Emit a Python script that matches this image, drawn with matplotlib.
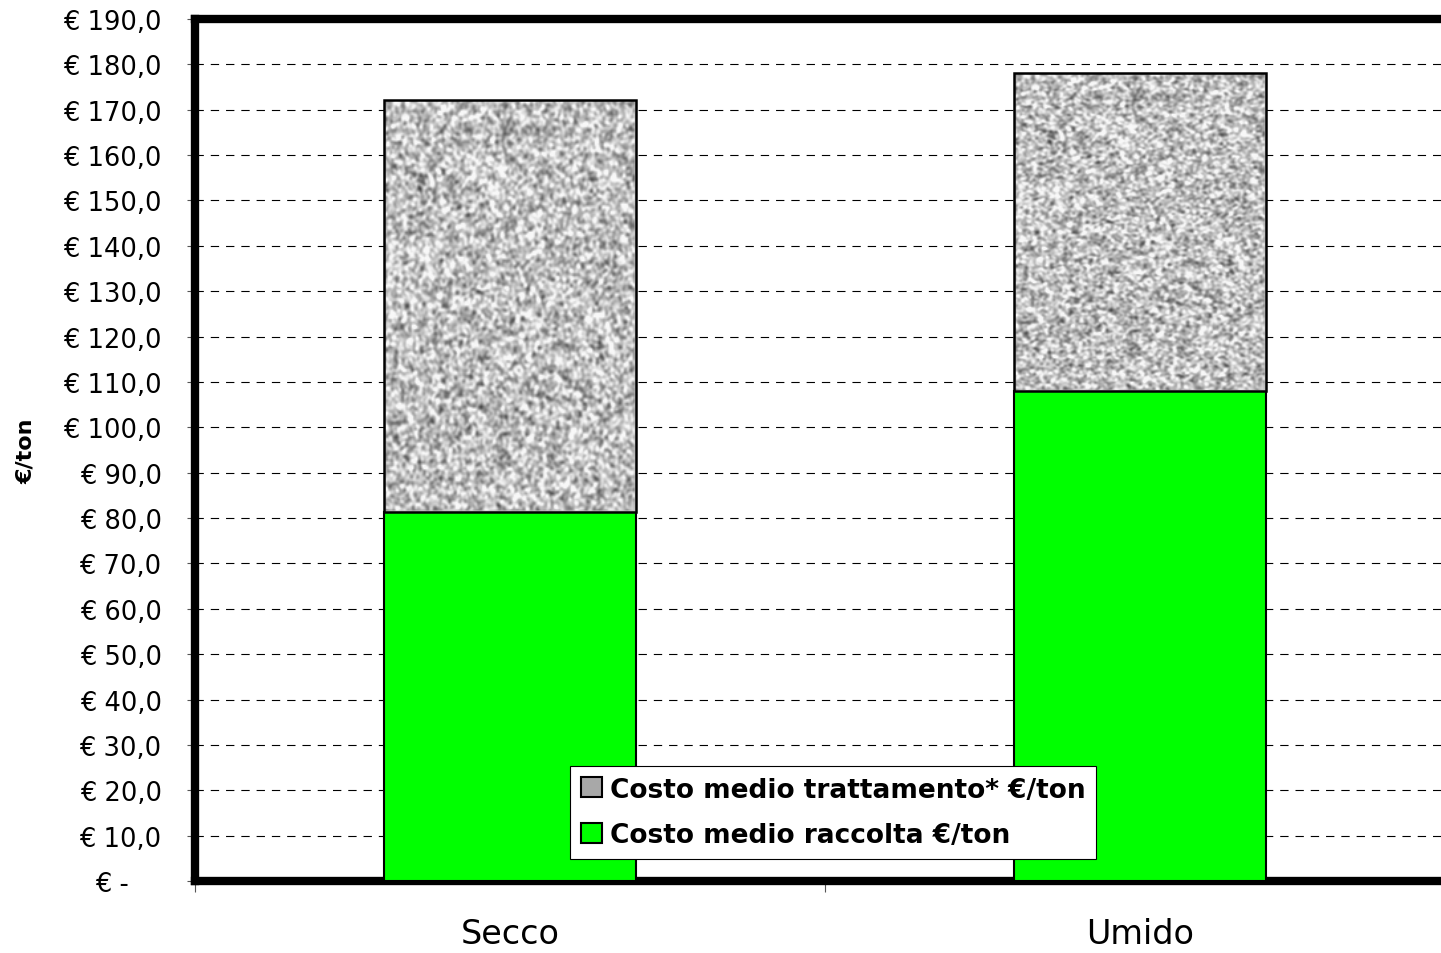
import numpy as np
import matplotlib
matplotlib.use("Agg")
import matplotlib.pyplot as plt
from matplotlib.patches import Patch, Rectangle

# Cost per tonne by waste stream
categories = ["Secco", "Umido"]
raccolta = [81.3, 108.1]        # average collection cost €/ton
trattamento = [90.9, 69.9]      # average treatment cost €/ton (stacked on top)
yticks = list(range(0, 200, 10))
ytick_labels = ["€ -    "] + [f"€ {v:.1f}".replace(".", ",") for v in yticks[1:]]

series_labels = ["Costo medio trattamento* €/ton", "Costo medio raccolta €/ton"]

plt.rcParams["font.family"] = ["DejaVu Sans"]
plt.rcParams["lines.scale_dashes"] = False

fig = plt.figure(figsize=(14.41, 9.54), dpi=100)
ax = fig.add_axes([195 / 1441, 72 / 954, 1260 / 1441, 862 / 954])

x = np.arange(len(categories))
width = 0.4

ax.set_xlim(-0.5, len(categories) - 0.5)
ax.set_ylim(0, 190)

# dashed horizontal gridlines behind the bars
ax.set_yticks(yticks)
ax.set_yticklabels(ytick_labels, fontsize=18.5)
ax.yaxis.grid(True, color="black", linestyle=(0, (6, 5)), linewidth=0.8)
ax.set_axisbelow(True)

green_bars = ax.bar(x, raccolta, width=width, color="#00ff00",
                    edgecolor="black", linewidth=1.5, zorder=3)
top_bars = ax.bar(x, trattamento, width=width, bottom=raccolta,
                  color="none", edgecolor="black", linewidth=1.8, zorder=5)

# granite-like grey texture for the treatment segment
rng = np.random.default_rng(7)
noise = rng.random((280, 190))
kernel = np.array([0.25, 0.5, 0.25])
for _ in range(2):
    noise = np.apply_along_axis(lambda r: np.convolve(r, kernel, mode="same"), 0, noise)
    noise = np.apply_along_axis(lambda r: np.convolve(r, kernel, mode="same"), 1, noise)
noise = (noise - noise.mean()) / noise.std()
tex = np.clip(0.75 + 0.14 * noise, 0.2, 0.97)
tex[0, :] = tex[-1, :] = tex[:, 0] = tex[:, -1] = 0.75
for bar in top_bars:
    x0, y0 = bar.get_x(), bar.get_y()
    w, h = bar.get_width(), bar.get_height()
    im = ax.imshow(tex, cmap="gray", vmin=0, vmax=1, aspect="auto",
                   extent=(x0, x0 + w, y0, y0 + h), zorder=4,
                   interpolation="bilinear")
    clip = Rectangle((x0, y0), w, h, transform=ax.transData)
    im.set_clip_path(clip)
ax.set_xlim(-0.5, len(categories) - 0.5)
ax.set_ylim(0, 190)

# category ticks sit at the boundaries between groups
major = np.arange(-0.5, len(categories), 1.0)
ax.set_xticks(major)
ax.set_xticklabels([""] * len(major))
ax.set_xticks(x, minor=True)
ax.set_xticklabels(categories, minor=True, fontsize=24)
ax.tick_params(axis="x", which="minor", length=0, pad=26)
ax.tick_params(axis="x", which="major", length=8, width=0.8, color="#555555",
               direction="out")
ax.tick_params(axis="y", length=6, width=0.8, color="#555555", pad=18)

for side in ("left", "top", "bottom"):
    ax.spines[side].set_linewidth(6)
    ax.spines[side].set_color("black")
ax.spines["right"].set_visible(False)

ax.set_ylabel("€/ton", fontsize=16, fontweight="bold")
ax.yaxis.set_label_coords(-0.126, 0.5)

handles = [Patch(facecolor="#a8a8a8", edgecolor="black", linewidth=1.5),
           Patch(facecolor="#00ff00", edgecolor="black", linewidth=1.5)]
leg = ax.legend(handles, series_labels, loc="upper left",
                bbox_to_anchor=(570 / 1441, 1 - 767 / 954),
                bbox_transform=fig.transFigure,
                prop={"size": 19, "weight": "bold"},
                frameon=True, fancybox=False, framealpha=1,
                edgecolor="black", borderpad=0.4, labelspacing=0.75,
                handlelength=0.8, handleheight=0.8, handletextpad=0.3,
                borderaxespad=0)
leg.get_frame().set_linewidth(0.8)
leg.set_zorder(10)

fig.savefig("out.png", dpi=100)
